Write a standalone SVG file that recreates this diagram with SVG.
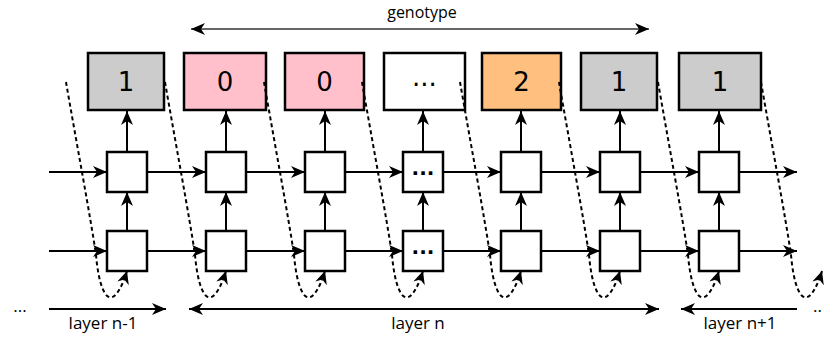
<svg xmlns="http://www.w3.org/2000/svg" width="829" height="340" viewBox="0 0 829 340">
<style>
.gene{stroke:#000;stroke-width:2.5}
.cell{fill:#fff;stroke:#000;stroke-width:2.5}
.big{font-family:"DejaVu Sans",sans-serif;font-size:26px;text-anchor:middle;fill:#000}
.dots{font-family:"DejaVu Sans",sans-serif;font-size:20px;font-weight:bold;text-anchor:middle;fill:#000}
.lbl{font-family:"Open Sans","Liberation Sans",sans-serif;font-size:17px;text-anchor:middle;fill:#000}
.ln{stroke:#000;stroke-width:2;fill:none}
.dash{stroke:#000;stroke-width:2;fill:none;stroke-dasharray:4,3}
</style>
<defs>
<marker id="ah" markerUnits="userSpaceOnUse" markerWidth="15" markerHeight="12" refX="14" refY="6" orient="auto-start-reverse" viewBox="0 0 15 12">
<path d="M0,0 L14,6 L0,12 L4,6 z" fill="#000"/>
</marker>
<marker id="ahd" markerUnits="userSpaceOnUse" markerWidth="14" markerHeight="12" refX="13" refY="6" orient="auto" viewBox="0 0 14 12">
<path d="M0,0 L13,6 L0,12 L4,6 z" fill="#000"/>
</marker>
</defs>

<g id="genotype">
<line x1="191" y1="29" x2="649" y2="29" stroke="#333" stroke-width="1.6" marker-start="url(#ah)" marker-end="url(#ah)"/>
<text class="lbl" x="422" y="18" style="font-size:16px">genotype</text>
</g>

<g id="gene1"><rect class="gene" x="88" y="53" width="76" height="57" fill="#cccccc"/><text class="big" x="126" y="91">1</text></g>
<g id="gene2"><rect class="gene" x="184" y="53" width="82" height="57" fill="#ffc0cb"/><text class="big" x="225" y="91">0</text></g>
<g id="gene3"><rect class="gene" x="285" y="53" width="79" height="57" fill="#ffc0cb"/><text class="big" x="324.5" y="91">0</text></g>
<g id="gene4"><rect class="gene" x="384" y="53" width="81" height="57" fill="#ffffff"/><text class="big" x="424.5" y="86">...</text></g>
<g id="gene5"><rect class="gene" x="482" y="53" width="79" height="57" fill="#ffc07f"/><text class="big" x="521.5" y="91">2</text></g>
<g id="gene6"><rect class="gene" x="581" y="53" width="76" height="57" fill="#cccccc"/><text class="big" x="619" y="91">1</text></g>
<g id="gene7"><rect class="gene" x="679" y="53" width="82" height="57" fill="#cccccc"/><text class="big" x="720" y="91">1</text></g>

<g id="cells">
<g id="c1a"><rect class="cell" x="107" y="152" width="40" height="40"/></g>
<g id="c2a"><rect class="cell" x="206" y="152" width="40" height="40"/></g>
<g id="c3a"><rect class="cell" x="305" y="152" width="40" height="40"/></g>
<g id="c4a"><rect class="cell" x="403" y="152" width="40" height="40"/><text class="dots" x="423" y="175">...</text></g>
<g id="c5a"><rect class="cell" x="501" y="152" width="40" height="40"/></g>
<g id="c6a"><rect class="cell" x="600" y="152" width="40" height="40"/></g>
<g id="c7a"><rect class="cell" x="699" y="152" width="40" height="40"/></g>
<g id="c1b"><rect class="cell" x="107" y="231" width="40" height="40"/></g>
<g id="c2b"><rect class="cell" x="206" y="231" width="40" height="40"/></g>
<g id="c3b"><rect class="cell" x="305" y="231" width="40" height="40"/></g>
<g id="c4b"><rect class="cell" x="403" y="231" width="40" height="40"/><text class="dots" x="423" y="254">...</text></g>
<g id="c5b"><rect class="cell" x="501" y="231" width="40" height="40"/></g>
<g id="c6b"><rect class="cell" x="600" y="231" width="40" height="40"/></g>
<g id="c7b"><rect class="cell" x="699" y="231" width="40" height="40"/></g>
</g>

<g id="connectors">
<line class="ln" x1="49" y1="172" x2="107" y2="172" marker-end="url(#ah)"/>
<line class="ln" x1="147" y1="172" x2="206" y2="172" marker-end="url(#ah)"/>
<line class="ln" x1="246" y1="172" x2="305" y2="172" marker-end="url(#ah)"/>
<line class="ln" x1="345" y1="172" x2="403" y2="172" marker-end="url(#ah)"/>
<line class="ln" x1="443" y1="172" x2="501" y2="172" marker-end="url(#ah)"/>
<line class="ln" x1="541" y1="172" x2="600" y2="172" marker-end="url(#ah)"/>
<line class="ln" x1="640" y1="172" x2="699" y2="172" marker-end="url(#ah)"/>
<line class="ln" x1="739" y1="172" x2="797" y2="172" marker-end="url(#ah)"/>
<line class="ln" x1="49" y1="251" x2="107" y2="251" marker-end="url(#ah)"/>
<line class="ln" x1="147" y1="251" x2="206" y2="251" marker-end="url(#ah)"/>
<line class="ln" x1="246" y1="251" x2="305" y2="251" marker-end="url(#ah)"/>
<line class="ln" x1="345" y1="251" x2="403" y2="251" marker-end="url(#ah)"/>
<line class="ln" x1="443" y1="251" x2="501" y2="251" marker-end="url(#ah)"/>
<line class="ln" x1="541" y1="251" x2="600" y2="251" marker-end="url(#ah)"/>
<line class="ln" x1="640" y1="251" x2="699" y2="251" marker-end="url(#ah)"/>
<line class="ln" x1="739" y1="251" x2="797" y2="251" marker-end="url(#ah)"/>
<line class="ln" x1="127" y1="231" x2="127" y2="192" marker-end="url(#ah)"/>
<line class="ln" x1="226" y1="231" x2="226" y2="192" marker-end="url(#ah)"/>
<line class="ln" x1="325" y1="231" x2="325" y2="192" marker-end="url(#ah)"/>
<line class="ln" x1="423" y1="231" x2="423" y2="192" marker-end="url(#ah)"/>
<line class="ln" x1="521" y1="231" x2="521" y2="192" marker-end="url(#ah)"/>
<line class="ln" x1="620" y1="231" x2="620" y2="192" marker-end="url(#ah)"/>
<line class="ln" x1="719" y1="231" x2="719" y2="192" marker-end="url(#ah)"/>
<line class="ln" x1="127" y1="152" x2="127" y2="111" marker-end="url(#ah)"/>
<line class="ln" x1="226" y1="152" x2="226" y2="111" marker-end="url(#ah)"/>
<line class="ln" x1="325" y1="152" x2="325" y2="111" marker-end="url(#ah)"/>
<line class="ln" x1="423" y1="152" x2="423" y2="111" marker-end="url(#ah)"/>
<line class="ln" x1="521" y1="152" x2="521" y2="111" marker-end="url(#ah)"/>
<line class="ln" x1="620" y1="152" x2="620" y2="111" marker-end="url(#ah)"/>
<line class="ln" x1="719" y1="152" x2="719" y2="111" marker-end="url(#ah)"/>
<path class="dash" transform="translate(66,82)" d="M0,0 C10,58 25,138 30,173 C34,218 47,233 61,189" marker-end="url(#ahd)"/>
<path class="dash" transform="translate(165,82)" d="M0,0 C10,58 25,138 30,173 C34,218 47,233 61,189" marker-end="url(#ahd)"/>
<path class="dash" transform="translate(264,82)" d="M0,0 C10,58 25,138 30,173 C34,218 47,233 61,189" marker-end="url(#ahd)"/>
<path class="dash" transform="translate(362,82)" d="M0,0 C10,58 25,138 30,173 C34,218 47,233 61,189" marker-end="url(#ahd)"/>
<path class="dash" transform="translate(460,82)" d="M0,0 C10,58 25,138 30,173 C34,218 47,233 61,189" marker-end="url(#ahd)"/>
<path class="dash" transform="translate(559,82)" d="M0,0 C10,58 25,138 30,173 C34,218 47,233 61,189" marker-end="url(#ahd)"/>
<path class="dash" transform="translate(658,82)" d="M0,0 C10,58 25,138 30,173 C34,218 47,233 61,189" marker-end="url(#ahd)"/>
<path class="dash" transform="translate(761,82)" d="M0,0 C10,58 25,138 30,173 C34,218 47,233 61,189" marker-end="url(#ahd)"/>
<line class="ln" x1="49" y1="309" x2="166" y2="309" marker-end="url(#ah)"/>
<line class="ln" x1="189" y1="309" x2="659" y2="309" marker-start="url(#ah)" marker-end="url(#ah)"/>
<line class="ln" x1="681" y1="309" x2="797" y2="309" marker-start="url(#ah)"/>
</g>

<g id="labels">
<text class="lbl" x="20" y="312">...</text>
<text class="lbl" x="813" y="312" style="text-anchor:start">..</text>
<text class="lbl" x="103" y="329">layer n-1</text>
<text class="lbl" x="418" y="329">layer n</text>
<text class="lbl" x="740" y="329">layer n+1</text>
</g>
</svg>
